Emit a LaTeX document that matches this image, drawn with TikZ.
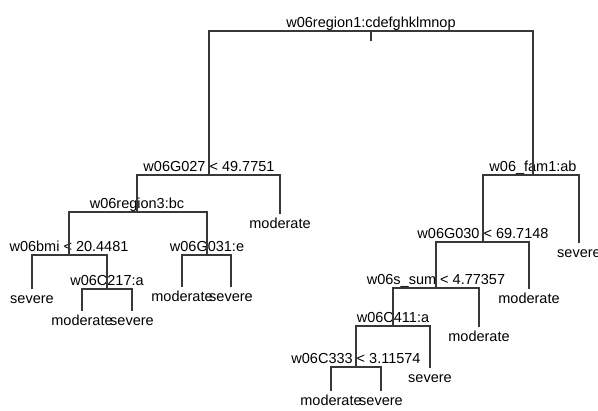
\documentclass[tikz,border=0pt]{standalone}
\usepackage{fontspec}
\setmainfont{Liberation Sans}
\tikzset{
  branch/.style={draw=black!78,line width=1.6pt,line cap=rect},
  split/.style={anchor=base,inner sep=0pt,font=\fontsize{14.5}{17}\selectfont},
  leaf/.style={anchor=base,inner sep=0pt,font=\fontsize{14.5}{17}\selectfont}
}
\begin{document}
\begin{tikzpicture}[x=1pt,y=-1pt]
\useasboundingbox (0,0) rectangle (598,411);
% split points
\coordinate (1) at (371,31);
\coordinate (1t) at (371,40);
\coordinate (2) at (209,175);
\coordinate (3) at (533,175);
\coordinate (4) at (137,212);
\coordinate (5) at (280,213);
\coordinate (8) at (69,255);
\coordinate (9) at (207,255);
\coordinate (16) at (32,288);
\coordinate (17) at (107,289);
\coordinate (34) at (82,310);
\coordinate (35) at (132,310);
\coordinate (18) at (182,286);
\coordinate (19) at (231,286);
\coordinate (6) at (483,242);
\coordinate (7) at (579,242);
\coordinate (12) at (436,288);
\coordinate (13) at (529,288);
\coordinate (24) at (393,326);
\coordinate (25) at (479,326);
\coordinate (48) at (356,367);
\coordinate (49) at (430,367);
\coordinate (96) at (331,390);
\coordinate (97) at (381,390);

% labels of the splits
\node[split] (t1) at ([yshift=3.5pt]1) {w06region1:cdefghklmnop};
\node[split] (t2) at ([yshift=3.5pt]2) {w06G027 < 49.7751};
\node[split] (t3) at ([yshift=3.5pt]3) {w06\_fam1:ab};
\node[split] (t4) at ([yshift=3.5pt]4) {w06region3:bc};
\node[split] (t8) at ([yshift=3.5pt]8) {w06bmi < 20.4481};
\node[split] (t9) at ([yshift=3.5pt]9) {w06G031:e};
\node[split] (t17) at ([yshift=3.5pt]17) {w06C217:a};
\node[split] (t6) at ([yshift=3.5pt]6) {w06G030 < 69.7148};
\node[split] (t12) at ([yshift=3.5pt]12) {w06s\_sum < 4.77357};
\node[split] (t24) at ([yshift=3.5pt]24) {w06C411:a};
\node[split] (t48) at ([yshift=3.5pt]48) {w06C333 < 3.11574};

% leaves
\node[leaf] (t5) at ([yshift=-16pt]5) {moderate};
\node[leaf] (t16) at ([yshift=-16pt]16) {severe};
\node[leaf] (t34) at ([yshift=-16pt]34) {moderate};
\node[leaf] (t35) at ([yshift=-16pt]35) {severe};
\node[leaf] (t18) at ([yshift=-16pt]18) {moderate};
\node[leaf] (t19) at ([yshift=-16pt]19) {severe};
\node[leaf] (t7) at ([yshift=-16pt]7) {severe};
\node[leaf] (t13) at ([yshift=-16pt]13) {moderate};
\node[leaf] (t25) at ([yshift=-16pt]25) {moderate};
\node[leaf] (t49) at ([yshift=-16pt]49) {severe};
\node[leaf] (t96) at ([yshift=-16pt]96) {moderate};
\node[leaf] (t97) at ([yshift=-16pt]97) {severe};

\path[branch] (1) -- (1t);
\path[branch] (2) |- (1) -| (3);
\path[branch] (4) |- (2) -| (5);
\path[branch] (8) |- (4) -| (9);
\path[branch] (16) |- (8) -| (17);
\path[branch] (34) |- (17) -| (35);
\path[branch] (18) |- (9) -| (19);
\path[branch] (6) |- (3) -| (7);
\path[branch] (12) |- (6) -| (13);
\path[branch] (24) |- (12) -| (25);
\path[branch] (48) |- (24) -| (49);
\path[branch] (96) |- (48) -| (97);
\end{tikzpicture}
\end{document}
